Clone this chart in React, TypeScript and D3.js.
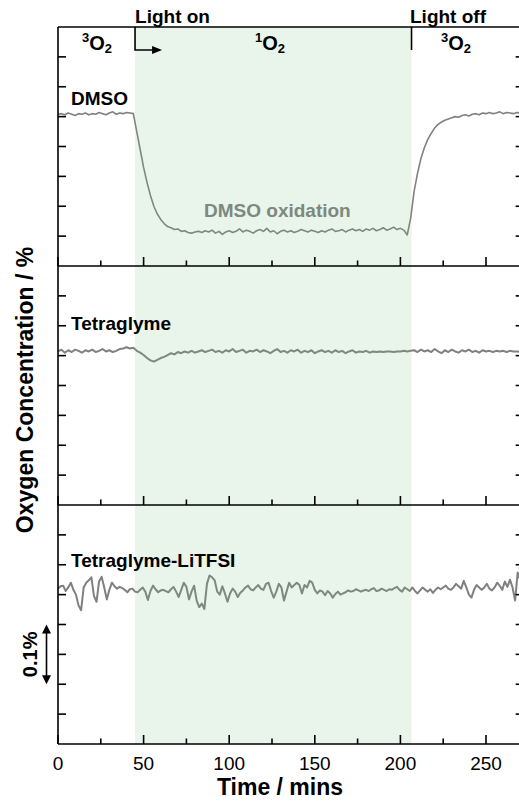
import React from "react";
import * as d3 from "d3";

// ---------- DATA ----------
const X_TICKS = [0, 50, 100, 150, 200, 250];
const X_MINOR = [25, 75, 125, 175, 225];
const Y_TICKS = [0.05, 0.1, 0.15, 0.2, 0.25, 0.3, 0.35];
const LIGHT_ON = 45;
const LIGHT_OFF = 206.5;

// DMSO (t = 0..270, step 2 min), oxygen concentration offset (%)
const DMSO_DT = 2;
const DMSO = [
  0.254, 0.255, 0.253, 0.256, 0.254, 0.252, 0.255, 0.254, 0.256, 0.253,
  0.255, 0.254, 0.257, 0.255, 0.253, 0.256, 0.258, 0.254, 0.256, 0.255,
  0.257, 0.256, 0.255, 0.225, 0.195, 0.165, 0.14, 0.118, 0.1, 0.087,
  0.078, 0.071, 0.066, 0.064, 0.061, 0.062, 0.058, 0.059, 0.056, 0.055,
  0.057,
  0.058, 0.056, 0.059, 0.057, 0.06, 0.055, 0.058, 0.053, 0.057, 0.059,
  0.056, 0.058, 0.062, 0.057, 0.06, 0.058, 0.055, 0.059, 0.061, 0.058,
  0.063, 0.057, 0.059, 0.054, 0.058, 0.06, 0.057, 0.059, 0.056, 0.058,
  0.061, 0.059, 0.057, 0.06, 0.058, 0.056, 0.059, 0.057, 0.06, 0.062,
  0.058, 0.059, 0.061, 0.057, 0.06, 0.062, 0.059, 0.061, 0.058, 0.062,
  0.06, 0.063, 0.059, 0.061, 0.064, 0.06, 0.062, 0.065, 0.061, 0.063,
  0.06, 0.052, 0.08, 0.125, 0.155, 0.18, 0.198, 0.212, 0.222, 0.231,
  0.237, 0.241, 0.244, 0.246, 0.248, 0.25, 0.249, 0.252, 0.253, 0.251,
  0.254, 0.255, 0.253, 0.256, 0.255, 0.257, 0.255, 0.256, 0.258, 0.255,
  0.257, 0.256, 0.255, 0.257, 0.256,
];

// Tetraglyme (t = 0..270, step 2 min)
const TETRA_DT = 2;
const TETRA = [
  0.257, 0.26, 0.255, 0.259, 0.256, 0.26, 0.258, 0.255, 0.259, 0.257,
  0.26, 0.256, 0.258, 0.261, 0.257, 0.259, 0.256, 0.258, 0.261, 0.262,
  0.264, 0.262, 0.263, 0.258, 0.255, 0.251, 0.246, 0.242, 0.24, 0.243,
  0.246, 0.248, 0.251, 0.254, 0.252, 0.256, 0.254, 0.257, 0.255,
  0.258, 0.255, 0.257, 0.259, 0.256, 0.258, 0.26, 0.256, 0.258, 0.255,
  0.259, 0.257, 0.261, 0.256, 0.258, 0.26, 0.255, 0.258, 0.257, 0.26,
  0.256, 0.259, 0.257, 0.254, 0.258, 0.261, 0.256, 0.258, 0.255, 0.259,
  0.257, 0.26, 0.255, 0.258, 0.256, 0.259, 0.254, 0.257, 0.259, 0.256,
  0.258, 0.255, 0.259, 0.256, 0.258, 0.254, 0.257, 0.259, 0.255, 0.257,
  0.256, 0.258, 0.255, 0.257, 0.256, 0.257, 0.256, 0.257, 0.257, 0.256,
  0.257, 0.257, 0.258, 0.257, 0.258, 0.259, 0.256, 0.26, 0.257, 0.259,
  0.256, 0.261, 0.257, 0.254, 0.259, 0.256, 0.26, 0.257, 0.255, 0.259,
  0.257, 0.26, 0.256, 0.258, 0.255, 0.259, 0.257, 0.258, 0.256, 0.258,
  0.257, 0.258, 0.256, 0.258, 0.257, 0.257, 0.256,
];

// Tetraglyme-LiTFSI (t = 0..270, step 1.5 min)
const LITFSI_DT = 1.5;
const LITFSI = [
  0.26, 0.264, 0.265, 0.256, 0.262, 0.27, 0.258, 0.25, 0.232, 0.224,
  0.262, 0.27, 0.274, 0.279, 0.248, 0.238, 0.272, 0.28, 0.262, 0.242,
  0.258, 0.27, 0.264, 0.26, 0.263, 0.261, 0.258, 0.254, 0.259, 0.26,
  0.255, 0.254, 0.258, 0.262, 0.255, 0.241, 0.256, 0.265, 0.259, 0.254,
  0.257, 0.258, 0.256, 0.254, 0.259, 0.263, 0.255, 0.246, 0.258, 0.27,
  0.263, 0.242, 0.255, 0.265, 0.24, 0.229, 0.235, 0.226, 0.268, 0.282,
  0.279, 0.274, 0.255, 0.25, 0.264, 0.252, 0.238, 0.252, 0.26, 0.255,
  0.246, 0.253, 0.257, 0.262, 0.265, 0.259, 0.257, 0.262, 0.266, 0.26,
  0.258, 0.268, 0.27, 0.256, 0.245, 0.255, 0.268, 0.262, 0.24, 0.255,
  0.27, 0.262, 0.266, 0.27, 0.266, 0.252, 0.266, 0.262, 0.273, 0.27,
  0.258, 0.252, 0.257, 0.255, 0.249, 0.256, 0.252, 0.245, 0.251, 0.255,
  0.25, 0.252, 0.254, 0.257, 0.255, 0.256, 0.259, 0.257, 0.255, 0.257,
  0.258, 0.256, 0.259, 0.261, 0.256, 0.257, 0.26, 0.258, 0.256, 0.259,
  0.258, 0.261, 0.263, 0.258, 0.255, 0.262, 0.259, 0.256, 0.262, 0.256,
  0.252, 0.257, 0.262, 0.258, 0.255, 0.259, 0.253, 0.258, 0.262, 0.259,
  0.262, 0.265, 0.26, 0.258, 0.262, 0.268, 0.264, 0.26, 0.273, 0.262,
  0.25, 0.245, 0.258, 0.266, 0.262, 0.258, 0.262, 0.268, 0.26, 0.257,
  0.262, 0.27, 0.265, 0.258, 0.272, 0.263, 0.275, 0.262, 0.24, 0.287,
  0.275,
];

// ---------- LAYOUT ----------
const W = 519;
const H = 802;
const PLOT_LEFT = 58;
const PX_PER_MIN = 1.712;
const X_MAX = 272;
const PANEL_TOPS = [27, 266, 505];
const PANEL_H = 239;
const FONT = "'Liberation Sans', Arial, Helvetica, sans-serif";
const LINE_COLOR = "#808080";

const x = d3
  .scaleLinear()
  .domain([0, X_MAX])
  .range([PLOT_LEFT, PLOT_LEFT + X_MAX * PX_PER_MIN]);
const PLOT_RIGHT = x(X_MAX);

const yScales = PANEL_TOPS.map((top) =>
  d3.scaleLinear().domain([0, 0.4]).range([top + PANEL_H, top])
);

const series = [
  { values: DMSO, dt: DMSO_DT, width: 1.6 },
  { values: TETRA, dt: TETRA_DT, width: 2 },
  { values: LITFSI, dt: LITFSI_DT, width: 2 },
];

function Arrowhead({ tipX, tipY, dir, len = 9, half = 4.5 }: any) {
  let d = "";
  if (dir === "right")
    d = `M${tipX},${tipY} L${tipX - len},${tipY - half} L${tipX - len},${tipY + half} Z`;
  else if (dir === "up")
    d = `M${tipX},${tipY} L${tipX - half},${tipY + len} L${tipX + half},${tipY + len} Z`;
  else
    d = `M${tipX},${tipY} L${tipX - half},${tipY - len} L${tipX + half},${tipY - len} Z`;
  return <path d={d} fill="#000" />;
}

function O2Label({ xPos, sup }: { xPos: number; sup: string }) {
  return (
    <text x={xPos} y={50} fontFamily={FONT} fontWeight="bold" fill="#000">
      <tspan fontSize={13} dy={-8}>
        {sup}
      </tspan>
      <tspan fontSize={20} dy={8}>
        O
      </tspan>
      <tspan fontSize={13} dy={3}>
        2
      </tspan>
    </text>
  );
}

export default function App() {
  const paths = series.map((s, i) => {
    const line = d3
      .line<number>()
      .x((_, j) => x(j * s.dt))
      .y((v) => yScales[i](v));
    return (
      <path
        key={i}
        d={line(s.values) || ""}
        fill="none"
        stroke={LINE_COLOR}
        strokeWidth={s.width}
        strokeLinejoin="round"
      />
    );
  });

  const xOn = x(LIGHT_ON);
  const xOff = x(LIGHT_OFF);
  const top = PANEL_TOPS[0];
  const bottom = PANEL_TOPS[2] + PANEL_H;
  const y3 = yScales[2];
  const barTop = y3(0.2);
  const barBottom = y3(0.1);
  const barX = 46.5;

  return (
    <svg
      width={W}
      height={H}
      viewBox={`0 0 ${W} ${H}`}
      style={{ position: "absolute", left: 0, top: 0, display: "block", background: "#fff" }}
    >
      <rect x={0} y={0} width={W} height={H} fill="#fff" />
      <clipPath id="plotClip">
        <rect x={PLOT_LEFT} y={top} width={PLOT_RIGHT - PLOT_LEFT} height={bottom - top} />
      </clipPath>

      <g clipPath="url(#plotClip)">{paths}</g>

      <text x={204} y={217} fontFamily={FONT} fontWeight="bold" fontSize={19} fill={LINE_COLOR}>
        DMSO oxidation
      </text>

      <rect
        x={xOn}
        y={top}
        width={xOff - xOn}
        height={bottom - top}
        fill="rgb(108,181,115)"
        fillOpacity={0.15}
      />

      {PANEL_TOPS.map((pt, i) => {
        const pb = pt + PANEL_H;
        const ys = yScales[i];
        return (
          <g key={i} stroke="#000" strokeWidth={1.6}>
            <line x1={PLOT_LEFT} x2={PLOT_LEFT} y1={pt} y2={pb} />
            <line x1={PLOT_RIGHT} x2={PLOT_RIGHT} y1={pt} y2={pb} />
            <line x1={PLOT_LEFT} x2={PLOT_RIGHT} y1={pb} y2={pb} />
            {i === 0 && <line x1={PLOT_LEFT} x2={PLOT_RIGHT} y1={pt} y2={pt} />}
            {Y_TICKS.map((t) => (
              <g key={t}>
                <line x1={PLOT_LEFT} x2={PLOT_LEFT + 8} y1={ys(t)} y2={ys(t)} />
                <line x1={PLOT_RIGHT - 8} x2={PLOT_RIGHT} y1={ys(t)} y2={ys(t)} />
              </g>
            ))}
            {X_TICKS.map((t) => (
              <line key={t} x1={x(t)} x2={x(t)} y1={pb} y2={pb - 9} />
            ))}
            {X_MINOR.map((t) => (
              <line key={t} x1={x(t)} x2={x(t)} y1={pb} y2={pb - 5.5} />
            ))}
          </g>
        );
      })}

      {X_TICKS.map((t) => (
        <text key={t} x={x(t)} y={770} textAnchor="middle" fontFamily={FONT} fontSize={19} fill="#000">
          {t}
        </text>
      ))}
      <text x={280} y={795} textAnchor="middle" fontFamily={FONT} fontWeight="bold" fontSize={23} fill="#000">
        Time / mins
      </text>

      <text
        transform={`translate(33,390) rotate(-90)`}
        textAnchor="middle"
        fontFamily={FONT}
        fontWeight="bold"
        fontSize={23}
        fill="#000"
      >
        Oxygen Concentration / %
      </text>

      <line x1={barX} x2={barX} y1={barTop + 6} y2={barBottom - 6} stroke="#000" strokeWidth={1.6} />
      <Arrowhead tipX={barX} tipY={barTop} dir="up" len={9} half={4.5} />
      <Arrowhead tipX={barX} tipY={barBottom} dir="down" len={9} half={4.5} />
      <text
        transform={`translate(37,${(barTop + barBottom) / 2}) rotate(-90)`}
        textAnchor="middle"
        fontFamily={FONT}
        fontWeight="bold"
        fontSize={20}
        fill="#000"
      >
        0.1%
      </text>

      <text x={xOn} y={23} fontFamily={FONT} fontWeight="bold" fontSize={19} fill="#000">
        Light on
      </text>
      <text x={xOff - 1.5} y={23} fontFamily={FONT} fontWeight="bold" fontSize={19} fill="#000">
        Light off
      </text>
      <path d={`M${xOn},${top} L${xOn},50 L${xOn + 18},50`} fill="none" stroke="#000" strokeWidth={1.6} />
      <Arrowhead tipX={xOn + 27} tipY={50} dir="right" len={10} half={4} />
      <line x1={xOff} x2={xOff} y1={top} y2={50} stroke="#000" strokeWidth={1.6} />

      <O2Label xPos={82} sup="3" />
      <O2Label xPos={255} sup="1" />
      <O2Label xPos={441} sup="3" />

      <text x={71} y={105} fontFamily={FONT} fontWeight="bold" fontSize={19} fill="#000">
        DMSO
      </text>
      <text x={71} y={330} fontFamily={FONT} fontWeight="bold" fontSize={19} fill="#000">
        Tetraglyme
      </text>
      <text x={71} y={567} fontFamily={FONT} fontWeight="bold" fontSize={19} fill="#000">
        Tetraglyme-LiTFSI
      </text>
    </svg>
  );
}
